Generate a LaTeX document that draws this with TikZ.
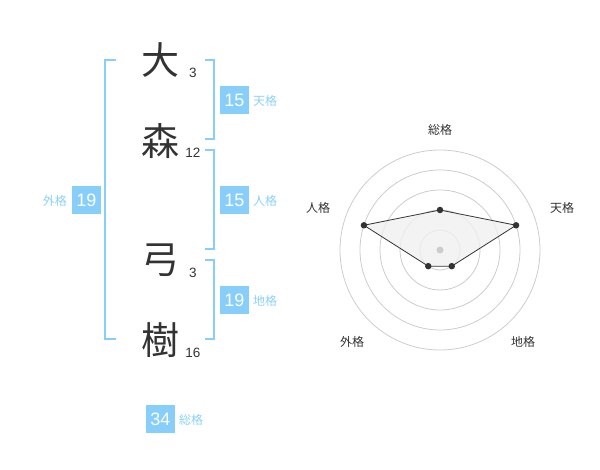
\documentclass[tikz,border=0pt]{standalone}
\usepackage{fontspec}
\usetikzlibrary{calc}
\setmainfont{Liberation Sans}
\newfontfamily\jp{Noto Sans CJK JP}
\definecolor{skyb}{RGB}{135,206,250}
\definecolor{labb}{RGB}{140,208,248}
\definecolor{ink}{RGB}{51,51,51}
\definecolor{gridc}{RGB}{204,204,204}
\definecolor{areac}{RGB}{240,240,240}
\tikzset{
  kanji/.style={font=\jp\fontsize{38}{38}\selectfont, text=ink, inner sep=0pt},
  strokes/.style={font=\fontsize{13.5}{14}\selectfont, text=ink, inner sep=0pt},
  numbox/.style={fill=skyb, text=white, font=\fontsize{18}{18}\selectfont, minimum width=29pt, minimum height=28pt, inner sep=0pt},
  kaku/.style={font=\jp\fontsize{12}{12}\selectfont, text=labb, inner sep=0pt},
  brk/.style={draw=skyb, line width=2pt},
  ring/.style={draw=gridc, line width=0.8pt},
  rlab/.style={font=\jp\fontsize{12}{12}\selectfont, text=ink, inner sep=0pt},
  dot/.style={circle, fill=ink, minimum size=6.5pt, inner sep=0pt},
}
\begin{document}
\begin{tikzpicture}[x=1pt,y=-1pt]
\useasboundingbox (0,0) rectangle (600,470);
% characters
\node[kanji] (k1) at (160,60) {大};
\node[kanji] (k2) at (160,141) {森};
\node[kanji] (k3) at (160,260) {弓};
\node[kanji] (k4) at (160,340) {樹};
\node[strokes] (s1) at (193,73) {3};
\node[strokes] (s2) at (193,153) {12};
\node[strokes] (s3) at (193,273) {3};
\node[strokes] (s4) at (193,353) {16};
% brackets
\coordinate (lt) at (116,60); \coordinate (lb) at (116,339);
\draw[brk] (lt) -- (105,60) -- (105,339) -- (lb);
\coordinate (a1) at (205,60); \coordinate (a2) at (205,139);
\draw[brk] (a1) -- (214,60) -- (214,139) -- (a2);
\coordinate (b1) at (205,150); \coordinate (b2) at (205,249);
\draw[brk] (b1) -- (214,150) -- (214,249) -- (b2);
\coordinate (c1) at (205,260); \coordinate (c2) at (205,339);
\draw[brk] (c1) -- (214,260) -- (214,339) -- (c2);
% boxes
\node[numbox] (ten) at (234.5,100) {15};
\node[kaku, anchor=west] (tenl) at (253,101) {天格};
\node[numbox] (jin) at (234.5,200) {15};
\node[kaku, anchor=west] (jinl) at (253,201) {人格};
\node[numbox] (chi) at (234.5,300) {19};
\node[kaku, anchor=west] (chil) at (253,301) {地格};
\node[numbox] (gai) at (86.5,200) {19};
\node[kaku, anchor=east] (gail) at (67,201) {外格};
\node[numbox] (sou) at (160.5,419) {34};
\node[kaku, anchor=west] (soul) at (179,420) {総格};
% radar
\coordinate (ctr) at (440,250);
\foreach \r in {20,40,60,80,100} \draw[ring] (ctr) circle[radius=\r];
\coordinate (p1) at ($(ctr)+(0,-40)$);
\coordinate (p2) at ($(ctr)+({80*cos(18)},{-80*sin(18)})$);
\coordinate (p3) at ($(ctr)+({20*cos(54)},{20*sin(54)})$);
\coordinate (p4) at ($(ctr)+({-20*cos(54)},{20*sin(54)})$);
\coordinate (p5) at ($(ctr)+({-80*cos(18)},{-80*sin(18)})$);
\draw[ink, fill=areac, fill opacity=0.8, line width=0.8pt] (p1) -- (p2) -- (p3) -- (p4) -- (p5) -- cycle;
\fill[gridc] (ctr) circle[radius=3.5];
\foreach \p in {p1,p2,p3,p4,p5} \node[dot] at (\p) {};
\node[rlab] (r1) at (440,130) {総格};
\node[rlab] (r2) at (562,208) {天格};
\node[rlab] (r3) at (523,342) {地格};
\node[rlab] (r4) at (352,342) {外格};
\node[rlab] (r5) at (318,208) {人格};
\end{tikzpicture}
\end{document}
